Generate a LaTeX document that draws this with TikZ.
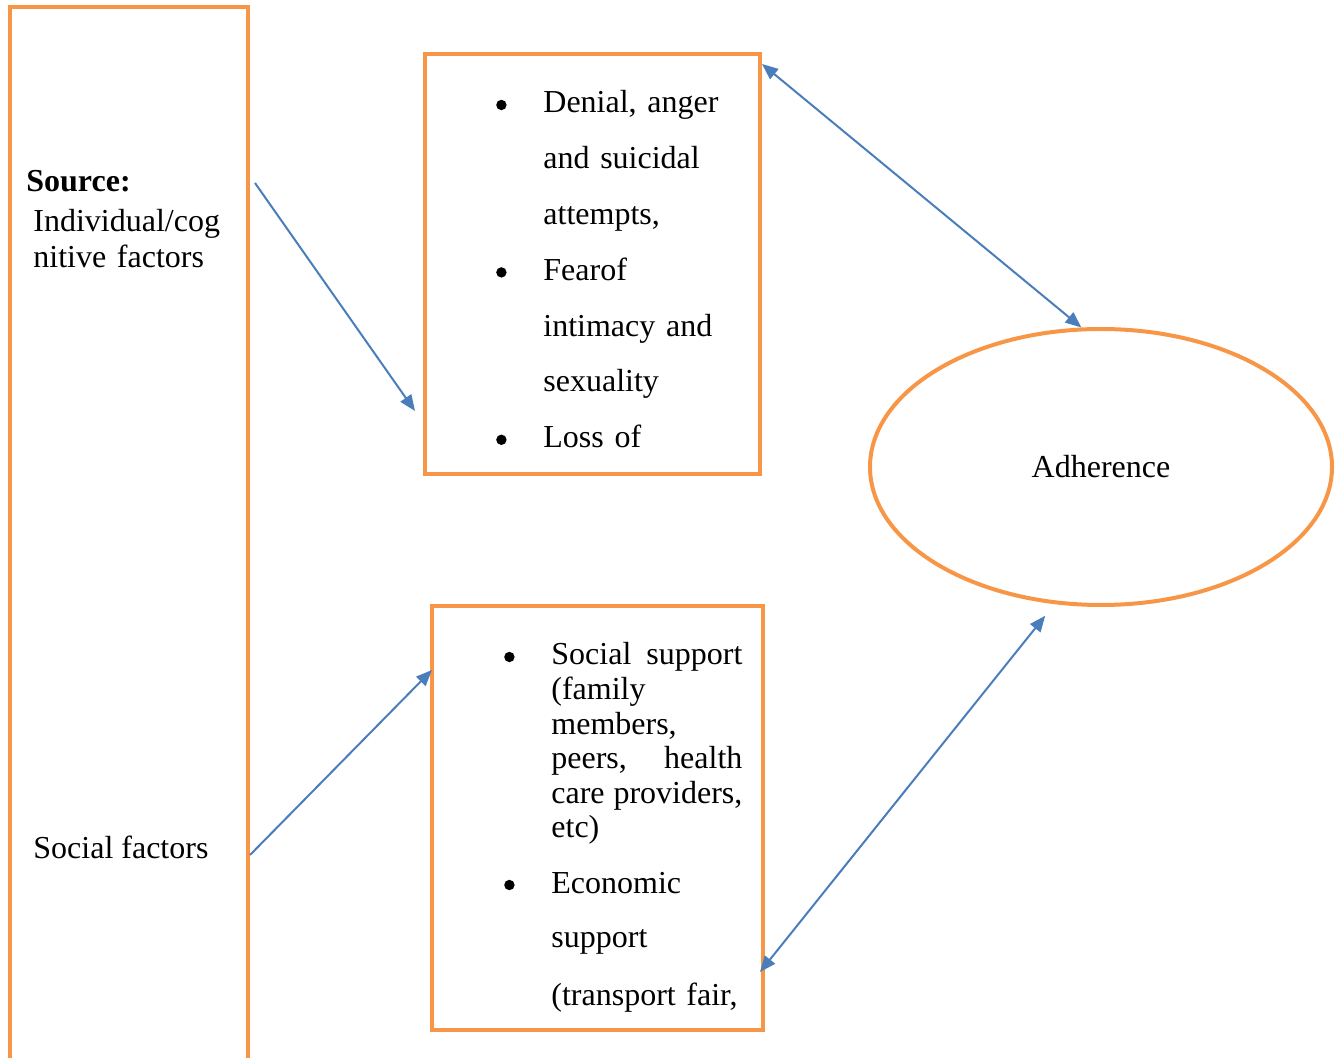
\documentclass[tikz,border=0pt]{standalone}
\usepackage{fontspec}
\setmainfont{Liberation Serif}
\usetikzlibrary{positioning,shapes.geometric,arrows.meta}
\definecolor{boxorange}{HTML}{F79646}
\definecolor{linkblue}{HTML}{4A7EBB}
\tikzset{
  orangebox/.style={draw=boxorange, line width=2pt, rectangle, inner sep=0pt,
    outer sep=0pt, anchor=north west},
  txt/.style={inner sep=0pt, text height=12pt, text depth=4pt, align=left},
  emoline/.style={txt, text width=100pt},
  socline/.style={txt, text width=95.5pt},
  bullet/.style={circle, fill=black, inner sep=0pt, minimum size=5.2pt},
  flow/.style={draw=linkblue, line width=1pt, -{Triangle[length=8pt,width=6.5pt]}},
  twoway/.style={flow, {Triangle[length=8pt,width=6.5pt]}-{Triangle[length=8pt,width=6.5pt]}},
}
\begin{document}
\begin{tikzpicture}[x=0.5pt, y=-0.5pt,
  font=\fontsize{16}{19}\selectfont,
  node distance=27.9pt]
\clip (0,0) rectangle (1340,1058);
% frames
\node[orangebox, minimum width=119pt, minimum height=540pt] (src) at (10,7) {};
\node[orangebox, minimum width=167.5pt, minimum height=210pt] (emo) at (425,54) {};
\node[orangebox, minimum width=165.5pt, minimum height=212pt] (soc) at (432,606) {};
\node[ellipse, draw=boxorange, line width=2pt, minimum width=231pt,
  minimum height=138pt] (adh) at (1101,467) {Adherence};
% source column
\node[txt, anchor=west] (source) at (26,184) {\bfseries Source:};
\node[txt, anchor=west, text width=105pt] (indiv) at (33,224) {Individual/cog};
\node[txt, text width=105pt, below of=indiv, node distance=18pt] (indiv2) {nitive factors};
\node[txt, anchor=west] (social) at (33,851) {Social factors};
% individual/cognitive list
\node[emoline, anchor=west] (emo1) at (543,105) {Denial, anger};
\node[emoline, below of=emo1] (emo2) {and suicidal};
\node[emoline, below of=emo2] (emo3) {attempts,};
\node[emoline, below of=emo3] (emo4) {Fearof};
\node[emoline, below of=emo4] (emo5) {intimacy and};
\node[emoline, below of=emo5] (emo6) {sexuality};
\node[emoline, below of=emo6] (emo7) {Loss of};
\node[bullet, left=18pt of emo1] (dot1) {};
\node[bullet, left=18pt of emo4] (dot2) {};
\node[bullet, left=18pt of emo7] (dot3) {};
% social list
\node[socline, anchor=west] (soc1) at (551,657) {Social\hfill support};
\node[socline, below of=soc1, node distance=17.3pt] (soc2) {(family};
\node[socline, below of=soc2, node distance=17.3pt] (soc3) {members,};
\node[socline, below of=soc3, node distance=17.3pt] (soc4) {peers,\hfill health};
\node[socline, below of=soc4, node distance=17.3pt] (soc5) {care\hfill providers,};
\node[socline, below of=soc5, node distance=17.3pt] (soc6) {etc)};
\node[socline, below of=soc6, node distance=27.5pt] (soc7) {Economic};
\node[socline, below of=soc7, node distance=27.5pt] (soc8) {support};
\node[socline, below of=soc8, node distance=28.5pt] (soc9) {(transport fair,};
\node[bullet, left=18pt of soc1] (dot4) {};
\node[bullet, left=18pt of soc7] (dot5) {};
% links
\coordinate (src-top) at (255,183);
\coordinate (src-low) at (250,855);
\draw[flow] (src-top) -- ([xshift=-5pt,yshift=31.5pt]emo.south west);
\draw[flow] (src-low) -- ([yshift=-32pt]soc.north west);
\draw[twoway] ([xshift=1pt,yshift=-5pt]emo.north east) -- (adh.98);
\draw[twoway] ([xshift=-1.5pt,yshift=29pt]soc.south east) -- ([xshift=-3pt,yshift=-6pt]adh.250);
\end{tikzpicture}
\end{document}
